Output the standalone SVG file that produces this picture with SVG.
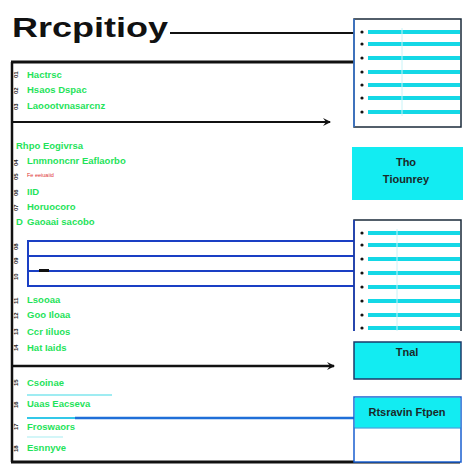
<svg xmlns="http://www.w3.org/2000/svg" width="474" height="474" viewBox="0 0 474 474">
<defs>
<marker id="ah" markerWidth="10" markerHeight="10" refX="8" refY="5" orient="auto" markerUnits="userSpaceOnUse">
<path d="M1,1 L9,5 L1,9 L4,5 Z" fill="#111"/>
</marker>
<style>
.g{font-family:"Liberation Sans",Arial,sans-serif;font-weight:bold;font-size:9.5px;fill:#1fe35a}
.n{font-family:"Liberation Sans",Arial,sans-serif;font-weight:bold;font-size:6px;fill:#222}
.dk{font-family:"Liberation Sans",Arial,sans-serif;font-weight:bold;font-size:11px;fill:#1a2a2a;text-anchor:middle}
.bl{stroke:#1a3fc4;stroke-width:2;fill:none}
.bar{fill:#14d8e6}
.dot{fill:#111}
</style>
</defs>
<rect width="474" height="474" fill="#fff"/>

<g id="title">
<text x="12" y="37" font-family="Liberation Sans, Arial, sans-serif" font-weight="bold" font-size="27" fill="#111" textLength="156" lengthAdjust="spacingAndGlyphs">Rrcpitioy</text>
</g>

<g id="connectors">
<line x1="170" y1="33" x2="354" y2="33" stroke="#111" stroke-width="2"/>
<line x1="11" y1="62" x2="354" y2="62" stroke="#111" stroke-width="3"/>
<line x1="11" y1="122" x2="330" y2="122" stroke="#111" stroke-width="2" marker-end="url(#ah)"/>
<line x1="11" y1="366" x2="334" y2="366" stroke="#111" stroke-width="2.5" marker-end="url(#ah)"/>
<line x1="11" y1="462" x2="460" y2="462" stroke="#111" stroke-width="3"/>
<line x1="12" y1="62" x2="12" y2="462" stroke="#111" stroke-width="2.5"/>
<line x1="27" y1="241" x2="354" y2="241" class="bl"/>
<line x1="27" y1="256" x2="354" y2="256" class="bl"/>
<line x1="27" y1="271" x2="354" y2="271" class="bl"/>
<line x1="27" y1="286" x2="354" y2="286" class="bl"/>
<line x1="28" y1="241" x2="28" y2="286" class="bl"/>
<rect x="39" y="269" width="10" height="3" fill="#111"/>
<line x1="27" y1="395" x2="112" y2="395" stroke="#7fe6ee" stroke-width="1.5"/>
<line x1="27" y1="418" x2="80" y2="418" stroke="#33c8e8" stroke-width="2"/>
<line x1="75" y1="418" x2="354" y2="418" stroke="#1f6fd8" stroke-width="2.5"/>
<line x1="27" y1="437" x2="63" y2="437" stroke="#a8eef2" stroke-width="1.2"/>
</g>

<g id="panel1">
<text class="n" transform="translate(18,78) rotate(-90)">01</text>
<text class="n" transform="translate(18,94) rotate(-90)">02</text>
<text class="n" transform="translate(18,110) rotate(-90)">03</text>
<text class="g" x="27" y="78">Hactrsc</text>
<text class="g" x="27" y="93">Hsaos Dspac</text>
<text class="g" x="27" y="109">Laoootvnasarcnz</text>
</g>

<g id="panel2">
<text class="g" x="16" y="149">Rhpo Eogivrsa</text>
<text class="n" transform="translate(18,166) rotate(-90)">04</text>
<text class="g" x="27" y="164">Lnmnoncnr Eaflaorbo</text>
<text class="n" transform="translate(18,180) rotate(-90)">05</text>
<text x="27" y="177" font-family="Liberation Sans, Arial, sans-serif" font-size="5.5" fill="#d33">Fe eeiuaiid</text>
<text class="n" transform="translate(18,196) rotate(-90)">06</text>
<text class="g" x="27" y="195">IID</text>
<text class="n" transform="translate(18,211) rotate(-90)">07</text>
<text class="g" x="27" y="210">Horuocoro</text>
<text class="g" x="16" y="225">D</text>
<text class="g" x="27" y="225">Gaoaai sacobo</text>
<text class="n" transform="translate(18,250) rotate(-90)">08</text>
<text class="n" transform="translate(18,264) rotate(-90)">09</text>
<text class="n" transform="translate(18,280) rotate(-90)">10</text>
<text class="n" transform="translate(18,304) rotate(-90)">11</text>
<text class="g" x="27" y="303">Lsooaa</text>
<text class="n" transform="translate(18,319) rotate(-90)">12</text>
<text class="g" x="27" y="318">Goo Iloaa</text>
<text class="n" transform="translate(18,335) rotate(-90)">13</text>
<text class="g" x="27" y="335">Ccr Iiluos</text>
<text class="n" transform="translate(18,351) rotate(-90)">14</text>
<text class="g" x="27" y="351">Hat Iaids</text>
</g>

<g id="panel3">
<text class="n" transform="translate(18,386) rotate(-90)">15</text>
<text class="g" x="27" y="386">Csoinae</text>
<text class="n" transform="translate(18,408) rotate(-90)">16</text>
<text class="g" x="27" y="407">Uaas Eacseva</text>
<text class="n" transform="translate(18,430) rotate(-90)">17</text>
<text class="g" x="27" y="430">Froswaors</text>
<text class="n" transform="translate(18,452) rotate(-90)">18</text>
<text class="g" x="27" y="451">Esnnyve</text>
</g>

<g id="list1">
<rect x="354" y="19" width="107" height="108" fill="#fff" stroke="#1a2a3a" stroke-width="1.5"/>
<line x1="354" y1="19" x2="354" y2="127" stroke="#3a7ad8" stroke-width="1.5"/>
<g class="bar">
<rect x="368" y="30" width="92" height="4"/>
<rect x="368" y="42" width="92" height="4"/>
<rect x="368" y="56" width="92" height="4"/>
<rect x="368" y="70" width="92" height="4"/>
<rect x="368" y="83" width="92" height="4"/>
<rect x="368" y="96" width="92" height="4"/>
<rect x="368" y="110" width="92" height="4"/>
</g>
<line x1="402" y1="28" x2="402" y2="116" stroke="#c8f4f8" stroke-width="1"/>
<g class="dot">
<circle cx="362" cy="32" r="1.6"/><circle cx="362" cy="44" r="1.6"/><circle cx="362" cy="58" r="1.6"/><circle cx="362" cy="72" r="1.6"/><circle cx="362" cy="85" r="1.6"/><circle cx="362" cy="98" r="1.6"/><circle cx="362" cy="112" r="1.6"/>
</g>
</g>

<g id="box-tho">
<rect x="352" y="147" width="111" height="53" fill="#12ecf2"/>
<text class="dk" x="406" y="166">Tho</text>
<text class="dk" x="406" y="183">Tiounrey</text>
</g>

<g id="list2">
<path d="M354,331 V220 H461 V331" fill="#fff" stroke="#1a2a3a" stroke-width="1.5"/>
<line x1="354" y1="220" x2="354" y2="331" stroke="#1a3fc4" stroke-width="1.5"/>
<g class="bar">
<rect x="368" y="231" width="92" height="4"/>
<rect x="368" y="243" width="92" height="4"/>
<rect x="368" y="257" width="92" height="4"/>
<rect x="368" y="271" width="92" height="4"/>
<rect x="368" y="285" width="92" height="4"/>
<rect x="368" y="299" width="92" height="4"/>
<rect x="368" y="313" width="92" height="4"/>
<rect x="368" y="326" width="92" height="4"/>
</g>
<line x1="397" y1="229" x2="397" y2="331" stroke="#c8f4f8" stroke-width="1"/>
<g class="dot">
<circle cx="362" cy="233" r="1.6"/><circle cx="362" cy="245" r="1.6"/><circle cx="362" cy="259" r="1.6"/><circle cx="362" cy="273" r="1.6"/><circle cx="362" cy="287" r="1.6"/><circle cx="362" cy="301" r="1.6"/><circle cx="362" cy="315" r="1.6"/><circle cx="362" cy="328" r="1.6"/>
</g>
</g>

<g id="box-tnal">
<rect x="354" y="342" width="107" height="37" fill="#12ecf2" stroke="#1a3a6a" stroke-width="1.5"/>
<text class="dk" x="407" y="356">Tnal</text>
</g>

<g id="box-rtsravin">
<rect x="354" y="397" width="107" height="65" fill="#fff" stroke="#1a5fd0" stroke-width="1.5"/>
<rect x="354.75" y="397.75" width="105.5" height="30" fill="#12ecf2"/>
<line x1="354" y1="428" x2="461" y2="428" stroke="#1a8fd8" stroke-width="1.2"/>
<text class="dk" x="407" y="416">Rtsravin Ftpen</text>
</g>
</svg>
